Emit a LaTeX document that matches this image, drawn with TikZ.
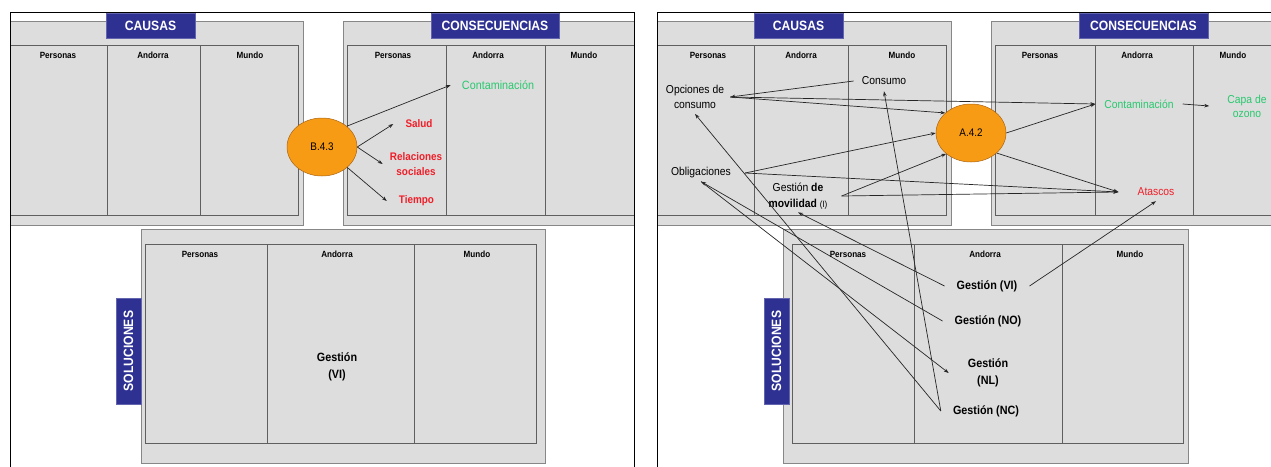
\documentclass[tikz,border=0pt]{standalone}
\usepackage{fontspec}
\setmainfont[FakeStretch=0.9]{Liberation Sans}
\usetikzlibrary{shapes.geometric,arrows.meta}
\definecolor{boxgray}{RGB}{221,221,221}
\definecolor{edgegray}{RGB}{135,135,135}
\definecolor{tablegray}{RGB}{95,95,95}
\definecolor{lblblue}{RGB}{46,49,146}
\definecolor{ellorange}{RGB}{248,155,20}
\definecolor{ellborder}{RGB}{170,100,20}
\definecolor{txtgreen}{RGB}{40,200,110}
\definecolor{txtred}{RGB}{240,30,40}
\pgfdeclarelayer{bg}
\pgfdeclarelayer{lines}
\pgfsetlayers{bg,lines,main}
\begin{document}
\begin{tikzpicture}[x=1pt,y=-1pt,
  frame/.style={draw=black,line width=0.8pt},
  graybox/.style={fill=boxgray,draw=edgegray,line width=0.8pt},
  tablebox/.style={draw=tablegray,line width=0.8pt},
  lbl/.style={fill=lblblue,draw=lblblue!75!white,text=white,font=\fontsize{13.5}{15}\selectfont\bfseries,minimum height=25pt,inner sep=0pt},
  hdr/.style={font=\fontsize{9}{10}\selectfont\bfseries,inner sep=1pt},
  txt/.style={font=\fontsize{11.5}{15}\selectfont,align=center,inner sep=2pt},
  redb/.style={font=\fontsize{11}{15}\selectfont\bfseries,text=txtred,align=center,inner sep=2pt},
  sol/.style={font=\fontsize{12}{17}\selectfont\bfseries,align=center,inner xsep=12pt,inner ysep=2pt},
  ell/.style={ellipse,fill=ellorange,draw=ellborder,line width=0.5pt,minimum width=70pt,minimum height=58pt,inner sep=0pt,font=\fontsize{11}{12}\selectfont},
  arr/.style={draw=black!85,line width=0.7pt,-{Stealth[length=5pt,width=3.5pt]}}
]
\useasboundingbox (0,0) rectangle (1271,466);
\begin{pgfonlayer}{bg}
\fill[white] (0,0) rectangle (1271,466);
% ---------- left panel ----------
\begin{scope}
\clip (10,12) rectangle (634,470);
\path[graybox] (4,21) rectangle (303,225);
\path[tablebox] (4,45) rectangle (298,215);
\draw[tablebox] (107,45) -- (107,215) (200,45) -- (200,215);
\path[graybox] (343,21) rectangle (660,225);
\path[tablebox] (347,45) rectangle (660,215);
\draw[tablebox] (446,45) -- (446,215) (545,45) -- (545,215);
\end{scope}
\path[graybox] (141,229) rectangle (545,463);
\path[tablebox] (145,244) rectangle (536,443);
\draw[tablebox] (267,244) -- (267,443) (414,244) -- (414,443);
\draw[frame] (10,470) -- (10,12) -- (634,12) -- (634,470);
% ---------- right panel ----------
\begin{scope}
\clip (657,12) rectangle (1280,470);
\path[graybox] (650,21) rectangle (951,225);
\path[tablebox] (650,45) rectangle (946,215);
\draw[tablebox] (754,45) -- (754,215) (848,45) -- (848,215);
\path[graybox] (991,21) rectangle (1290,225);
\path[tablebox] (995,45) rectangle (1290,215);
\draw[tablebox] (1095,45) -- (1095,215) (1193,45) -- (1193,215);
\end{scope}
\path[graybox] (783,229) rectangle (1188,463);
\path[tablebox] (792,244) rectangle (1183,443);
\draw[tablebox] (914,244) -- (914,443) (1062,244) -- (1062,443);
\draw[frame] (657,470) -- (657,12) -- (1280,12);
\end{pgfonlayer}

% ---------- labels ----------
\node[lbl,minimum width=89pt] (causasL) at (150.5,25.5) {CAUSAS};
\node[lbl,minimum width=128pt] (consecL) at (495,25.5) {CONSECUENCIAS};
\node[lbl,rotate=90,minimum width=106pt] (solL) at (128.5,351) {SOLUCIONES};
\node[lbl,minimum width=89pt] (causasR) at (798.5,25.5) {CAUSAS};
\node[lbl,minimum width=129pt] (consecR) at (1143.5,25.5) {CONSECUENCIAS};
\node[lbl,rotate=90,minimum width=106pt] (solR) at (776.5,351) {SOLUCIONES};

% ---------- headers ----------
\node[hdr] (hLcP) at (58,55) {Personas};
\node[hdr] (hLcA) at (153,55) {Andorra};
\node[hdr] (hLcM) at (250,55) {Mundo};
\node[hdr] (hLqP) at (393,55) {Personas};
\node[hdr] (hLqA) at (488,55) {Andorra};
\node[hdr] (hLqM) at (584,55) {Mundo};
\node[hdr] (hLsP) at (200,254) {Personas};
\node[hdr] (hLsA) at (337,254) {Andorra};
\node[hdr] (hLsM) at (477,254) {Mundo};
\node[hdr] (hRcP) at (708,55) {Personas};
\node[hdr] (hRcA) at (801,55) {Andorra};
\node[hdr] (hRcM) at (902,55) {Mundo};
\node[hdr] (hRqP) at (1040,55) {Personas};
\node[hdr] (hRqA) at (1137,55) {Andorra};
\node[hdr] (hRqM) at (1233,55) {Mundo};
\node[hdr] (hRsP) at (848,254) {Personas};
\node[hdr] (hRsA) at (985,254) {Andorra};
\node[hdr] (hRsM) at (1130,254) {Mundo};

% ---------- left panel content ----------
\node[ell] (ellB) at (322,147) {B.4.3};
\node[txt,text=txtgreen,font=\fontsize{12}{15}\selectfont,inner xsep=11pt] (contL) at (498,85) {Contaminación};
\node[redb,inner xsep=12pt] (salud) at (419,124) {Salud};
\node[redb,inner xsep=7pt] (rel) at (416,164) {Relaciones\\sociales};
\node[redb,inner xsep=12pt] (tiempo) at (416.5,201) {Tiempo};
\node[sol] (gestL) at (337,367) {Gestión\\(VI)};

% ---------- right panel content ----------
\node[ell] (ellA) at (971,133) {A.4.2};
\node[txt,inner xsep=6pt,inner ysep=5pt] (opc) at (695,97) {Opciones de\\consumo};
\node[txt,inner xsep=8pt,inner ysep=6pt] (cons) at (884,81) {Consumo};
\node[txt,inner xsep=14pt,inner ysep=3pt] (obl) at (701,173) {Obligaciones};
\node[txt,font=\fontsize{11.5}{16}\selectfont,inner xsep=14pt,inner ysep=3pt] (mov) at (798,196) {Gestión \textbf{de}\\\textbf{movilidad} {\fontsize{9}{10}\selectfont (I)}};
\node[txt,text=txtgreen,inner xsep=9pt] (contR) at (1139,104) {Contaminación};
\node[txt,text=txtgreen,font=\fontsize{11.5}{14}\selectfont,inner xsep=18pt] (capa) at (1247,106) {Capa de\\ozono};
\node[txt,text=txtred,inner xsep=19pt,inner ysep=5pt] (atas) at (1156,192) {Atascos};
\node[sol] (vi) at (987,286) {Gestión (VI)};
\node[sol] (no) at (988,321) {Gestión (NO)};
\node[sol,inner xsep=19pt] (nl) at (988,373) {Gestión\\(NL)};
\node[sol] (nc) at (986,411) {Gestión (NC)};

% ---------- connectors ----------
\begin{pgfonlayer}{lines}
\draw[arr] (ellB.40) -- (contL.west);
\draw[arr] (ellB.east) -- (salud.west);
\draw[arr] (ellB.east) -- (rel.west);
\draw[arr] (ellB.321) -- (tiempo.west);

\draw[arr] (cons.west) -- (opc.east);
\draw[arr] (opc.east) -- (ellA.142);
\draw[arr] (opc.east) -- (contR.west);
\draw[arr] (ellA.east) -- (contR.west);
\draw[arr] (obl.east) -- (ellA.west);
\draw[arr] (obl.east) -- (atas.west);
\draw[arr] (mov.east) -- (ellA.220);
\draw[arr] (mov.east) -- (atas.west);
\draw[arr] (ellA.322) -- (atas.west);
\draw[arr] (contR.east) -- (capa.west);
\draw[arr] (vi.east) -- (atas.south);
\draw[arr] (vi.west) -- (mov.south);
\draw[arr] (no.west) -- (obl.south);
\draw[arr] (obl.south) -- (nl.west);
\draw[arr] (nc.west) -- (opc.south);
\draw[arr] (nc.west) -- (cons.south);
\end{pgfonlayer}
\end{tikzpicture}
\end{document}
